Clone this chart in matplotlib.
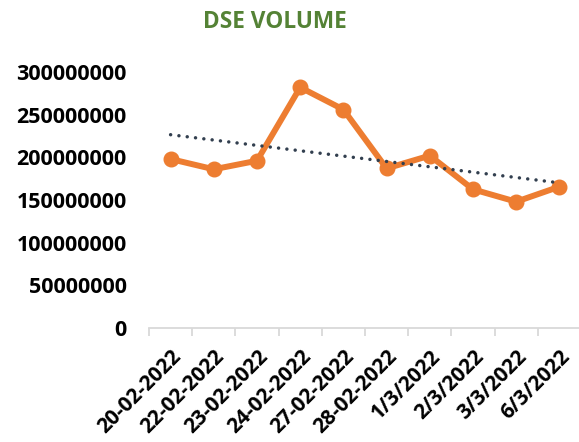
import numpy as np
import matplotlib
matplotlib.use('Agg')
import matplotlib.pyplot as plt

# datos
fechas = ['20-02-2022', '22-02-2022', '23-02-2022', '24-02-2022', '27-02-2022',
          '28-02-2022', '1/3/2022', '2/3/2022', '3/3/2022', '6/3/2022']
volumen = [198000000, 186000000, 196000000, 282000000, 256000000,
           187000000, 202000000, 162500000, 148000000, 165600000]
y_ticks = [0, 50000000, 100000000, 150000000, 200000000, 250000000, 300000000]

plt.rcParams['font.family'] = ['Open Sans', 'DejaVu Sans']

fig = plt.figure(figsize=(5.79, 4.42), dpi=100)
ax = fig.add_axes([149/579, 1 - 328/442, 432/579, 256/442])

x = np.arange(len(fechas))
y = np.array(volumen, dtype=float)

ax.plot(x, y, color='#ED7D31', linewidth=4.3, marker='o', markersize=10.5,
        solid_capstyle='round', solid_joinstyle='round', zorder=3)

# linea de tendencia lineal
m, b = np.polyfit(x, y, 1)
ax.plot(x, m * x + b, color='#323F4F', linewidth=2.5,
        linestyle=(0, (0.01, 2.4)), dash_capstyle='round', zorder=4)

ax.set_xlim(-0.5, len(fechas) - 0.5)
ax.set_ylim(0, 300000000)
ax.set_yticks(y_ticks)
ax.set_yticklabels([str(v) for v in y_ticks], fontsize=15.5, fontweight='bold')
ax.tick_params(axis='y', length=0, pad=16)

ax.set_xticks(x)
ax.set_xticklabels(fechas, fontsize=15, fontweight='bold', rotation=45,
                   ha='right', va='top', rotation_mode='anchor')
ax.tick_params(axis='x', which='major', length=0, pad=13)
ax.set_xticks(np.arange(-0.5, len(fechas)), minor=True)
ax.tick_params(axis='x', which='minor', length=6, width=1.3, color='#D9D9D9')

for s in ['top', 'right', 'left']:
    ax.spines[s].set_visible(False)
ax.spines['bottom'].set_color('#D9D9D9')
ax.spines['bottom'].set_linewidth(1.3)

fig.text(275/579, 1 - 22/442, 'DSE VOLUME', color='#548235', fontsize=16.3,
         fontweight='bold', ha='center', va='center')

fig.savefig('out.png', dpi=100)
